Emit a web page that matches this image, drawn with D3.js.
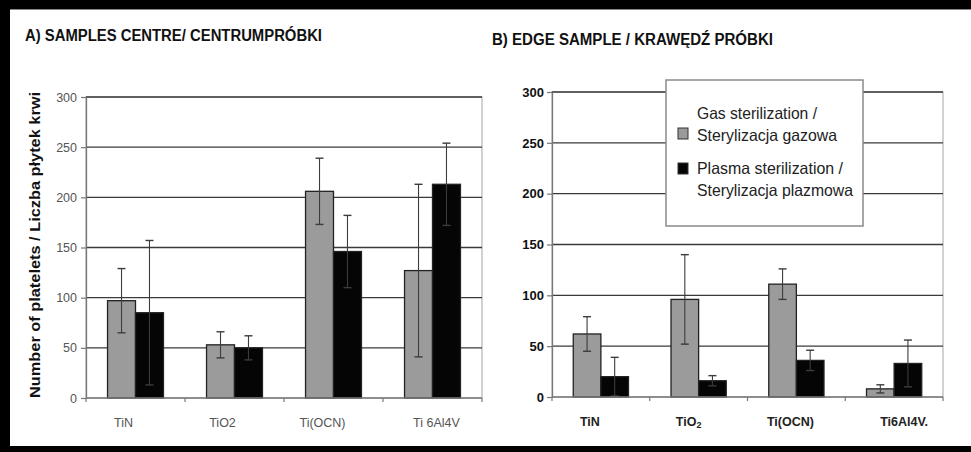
<!DOCTYPE html>
<html>
<head>
<meta charset="utf-8">
<script src="https://cdn.jsdelivr.net/npm/d3@7"></script>
<style>
  body { margin: 0; background: #fff; }
  svg { display: block; }
</style>
</head>
<body>
<svg id="chart" width="971" height="452"></svg>
<script>
// Platelet counts per coating, two sterilization methods
const categoriesCentre = ["TiN", "TiO2", "Ti(OCN)", "Ti 6Al4V"];
const categoriesEdge = ["TiN", "TiO2", "Ti(OCN)", "Ti6Al4V."];
const seriesKeys = ["gas", "plasma"];
const legendLines = [
  ["Gas sterilization /", "Sterylizacja gazowa"],
  ["Plasma sterilization /", "Sterylizacja plazmowa"]
];
const centreGas = [97, 53, 206, 127];
const centreGasErr = [32, 13, 33, 86];
const centrePlasma = [85, 50, 146, 213];
const centrePlasmaErr = [72, 12, 36, 41];
const edgeGas = [62, 96, 111, 8];
const edgeGasErr = [17, 44, 15, 4];
const edgePlasma = [20, 16, 36, 33];
const edgePlasmaErr = [19, 5, 10, 23];
const yTicks = [0, 50, 100, 150, 200, 250, 300];

const fills = { gas: "#9b9b9b", plasma: "#050505" };
const svg = d3.select("#chart");

// page frame
svg.append("rect").attr("x", 0).attr("y", 0).attr("width", 971).attr("height", 452).attr("fill", "#fff");
svg.append("rect").attr("x", 0).attr("y", 0).attr("width", 971).attr("height", 9).attr("fill", "#000");
svg.append("rect").attr("x", 0).attr("y", 9).attr("width", 971).attr("height", 1).attr("fill", "#888");
svg.append("rect").attr("x", 0).attr("y", 0).attr("width", 10).attr("height", 452).attr("fill", "#000");
svg.append("rect").attr("x", 0).attr("y", 446).attr("width", 971).attr("height", 6).attr("fill", "#000");

function drawPanel(cfg) {
  const g = svg.append("g");
  const x0 = d3.scaleBand().domain(cfg.categories).range([cfg.left, cfg.right]).padding(0);
  const x1 = d3.scaleBand().domain(seriesKeys).range([0, x0.bandwidth()]).paddingInner(0).paddingOuter(0.77);
  const y = d3.scaleLinear().domain([0, 300]).range([cfg.bottom, cfg.top]);

  // plot area border
  g.append("rect")
    .attr("x", cfg.left).attr("y", cfg.top)
    .attr("width", cfg.right - cfg.left).attr("height", cfg.bottom - cfg.top)
    .attr("fill", "none").attr("stroke", "#b5b5b5").attr("stroke-width", 1.2);

  // gridlines
  g.selectAll("line.grid").data(yTicks.filter(t => t > 0)).join("line")
    .attr("class", "grid")
    .attr("x1", cfg.left).attr("x2", cfg.right)
    .attr("y1", d => y(d)).attr("y2", d => y(d))
    .attr("stroke", "#3a3a3a").attr("stroke-width", 1.3);

  // y axis
  const yAxis = g.append("g").attr("transform", `translate(${cfg.left},0)`)
    .call(d3.axisLeft(y).tickValues(yTicks).tickSize(5).tickPadding(cfg.yPad).tickSizeOuter(0));
  yAxis.select(".domain").attr("stroke", "#777").attr("stroke-width", 1.3);
  yAxis.selectAll(".tick line").attr("stroke", "#777").attr("stroke-width", 1.2);
  yAxis.selectAll(".tick text")
    .attr("font-family", "'Liberation Sans', Arial, sans-serif")
    .attr("font-size", cfg.yFont).attr("font-weight", cfg.yWeight).attr("fill", cfg.yColor);

  // category boundary ticks
  const bounds = cfg.categories.map(c => x0(c)).concat([cfg.right]);
  g.selectAll("line.xtick").data(bounds).join("line")
    .attr("class", "xtick")
    .attr("x1", d => d).attr("x2", d => d)
    .attr("y1", cfg.bottom).attr("y2", cfg.bottom + 4)
    .attr("stroke", "#777").attr("stroke-width", 1.2);

  // bars
  const rows = cfg.categories.map((c, i) => ({
    cat: c,
    items: [
      { key: "gas", v: cfg.gas[i], e: cfg.gasErr[i] },
      { key: "plasma", v: cfg.plasma[i], e: cfg.plasmaErr[i] }
    ]
  }));
  const grp = g.selectAll("g.cat").data(rows).join("g")
    .attr("class", "cat")
    .attr("transform", d => `translate(${x0(d.cat)},0)`);
  grp.selectAll("rect").data(d => d.items).join("rect")
    .attr("x", d => x1(d.key)).attr("width", x1.bandwidth())
    .attr("y", d => y(d.v)).attr("height", d => y(0) - y(d.v))
    .attr("fill", d => fills[d.key]).attr("stroke", "#222").attr("stroke-width", 1.3);

  // error bars
  const eb = grp.selectAll("g.err").data(d => d.items).join("g").attr("class", "err");
  const cx = d => x1(d.key) + x1.bandwidth() / 2;
  const errColor = "#3c3c3c";
  eb.append("line")
    .attr("x1", cx).attr("x2", cx)
    .attr("y1", d => y(d.v + d.e)).attr("y2", d => y(Math.max(0, d.v - d.e)))
    .attr("stroke", errColor).attr("stroke-width", 1.1);
  eb.append("line")
    .attr("x1", d => cx(d) - 4).attr("x2", d => cx(d) + 4)
    .attr("y1", d => y(d.v + d.e)).attr("y2", d => y(d.v + d.e))
    .attr("stroke", errColor).attr("stroke-width", 1.4);
  eb.append("line")
    .attr("x1", d => cx(d) - 4).attr("x2", d => cx(d) + 4)
    .attr("y1", d => y(Math.max(0, d.v - d.e))).attr("y2", d => y(Math.max(0, d.v - d.e)))
    .attr("stroke", errColor).attr("stroke-width", 1.4);

  // baseline drawn over the bars
  g.append("line")
    .attr("x1", cfg.left).attr("x2", cfg.right)
    .attr("y1", cfg.bottom).attr("y2", cfg.bottom)
    .attr("stroke", "#777").attr("stroke-width", 1.3);

  // category labels
  const labels = g.selectAll("text.xlab").data(cfg.categories).join("text")
    .attr("class", "xlab")
    .attr("x", (d, i) => x0(d) + x0.bandwidth() / 2 + cfg.xShift[i])
    .attr("y", cfg.bottom + 29)
    .attr("text-anchor", "middle")
    .attr("font-family", "'Liberation Sans', Arial, sans-serif")
    .attr("font-size", 12.5).attr("font-weight", cfg.xWeight).attr("fill", cfg.xColor);
  labels.each(function (d) {
    const t = d3.select(this);
    if (cfg.subscript && d === "TiO2") {
      t.append("tspan").text("TiO");
      t.append("tspan").attr("font-size", 9).attr("dy", 2).text("2");
    } else {
      t.text(d);
    }
  });
  return { x0, x1, y };
}

drawPanel({
  categories: categoriesCentre, gas: centreGas, gasErr: centreGasErr,
  plasma: centrePlasma, plasmaErr: centrePlasmaErr,
  left: 86, right: 482, top: 97, bottom: 398,
  yFont: 12.5, yWeight: "normal", yColor: "#555", yPad: 4,
  xWeight: "normal", xColor: "#555", subscript: false,
  xShift: [-12, -12, -11, 4]
});

drawPanel({
  categories: categoriesEdge, gas: edgeGas, gasErr: edgeGasErr,
  plasma: edgePlasma, plasmaErr: edgePlasmaErr,
  left: 552, right: 943, top: 92, bottom: 397,
  yFont: 13, yWeight: "bold", yColor: "#111", yPad: 3,
  xWeight: "bold", xColor: "#222", subscript: true,
  xShift: [-11, -10, -6, 10]
});

// titles
svg.append("text").attr("x", 25).attr("y", 41)
  .attr("font-family", "'Liberation Sans', Arial, sans-serif")
  .attr("font-size", 16).attr("font-weight", "bold").attr("fill", "#111")
  .attr("textLength", 297).attr("lengthAdjust", "spacingAndGlyphs")
  .text("A) SAMPLES CENTRE/ CENTRUMPRÓBKI");
svg.append("text").attr("x", 492).attr("y", 45)
  .attr("font-family", "'Liberation Sans', Arial, sans-serif")
  .attr("font-size", 16).attr("font-weight", "bold").attr("fill", "#111")
  .attr("textLength", 281).attr("lengthAdjust", "spacingAndGlyphs")
  .text("B) EDGE SAMPLE / KRAWĘDŹ PRÓBKI");

// y axis title
svg.append("text")
  .attr("transform", "translate(40,245) rotate(-90)")
  .attr("text-anchor", "middle")
  .attr("font-family", "'Liberation Sans', Arial, sans-serif")
  .attr("font-size", 15).attr("font-weight", "bold").attr("fill", "#111")
  .attr("textLength", 306).attr("lengthAdjust", "spacingAndGlyphs")
  .text("Number of platelets / Liczba płytek krwi");

// legend
const lg = svg.append("g");
lg.append("rect").attr("x", 666).attr("y", 80).attr("width", 197).attr("height", 146)
  .attr("fill", "#fff").attr("stroke", "#8a8a8a").attr("stroke-width", 1.5);
const legendBaselines = [[119, 141], [174, 196]];
const legendWidths = [[120, 140], [146, 156]];
const swatchTop = [128, 163];
seriesKeys.forEach((k, i) => {
  lg.append("rect")
    .attr("x", 678).attr("y", swatchTop[i]).attr("width", 10).attr("height", 11)
    .attr("fill", fills[k]).attr("stroke", "#333").attr("stroke-width", 1);
  legendLines[i].forEach((t, j) => {
    lg.append("text")
      .attr("x", 697).attr("y", legendBaselines[i][j])
      .attr("font-family", "'Liberation Sans', Arial, sans-serif")
      .attr("font-size", 16.5).attr("fill", "#222")
      .attr("textLength", legendWidths[i][j])
      .attr("lengthAdjust", "spacingAndGlyphs")
      .text(t);
  });
});
</script>
</body>
</html>
